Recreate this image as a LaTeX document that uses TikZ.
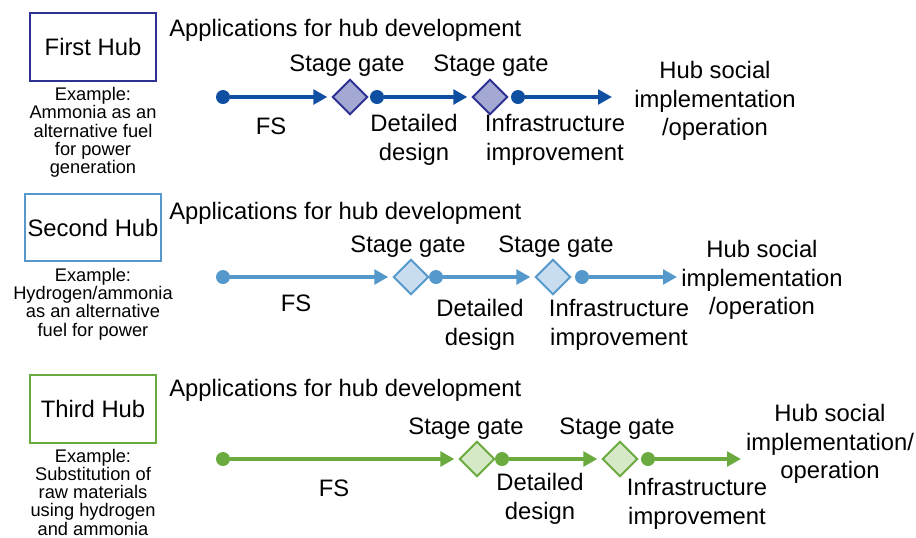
\documentclass[tikz,border=0pt]{standalone}
\usepackage{fontspec}
\setmainfont{Liberation Sans}
\usetikzlibrary{shapes.geometric}
\usetikzlibrary{arrows.meta}
\definecolor{navyline}{HTML}{0E4FA1}
\definecolor{navyedge}{HTML}{2E3192}
\definecolor{navyfill}{HTML}{A4A9D4}
\definecolor{skyline}{HTML}{5599CC}
\definecolor{skyfill}{HTML}{C8DDF0}
\definecolor{leafline}{HTML}{6AAA3F}
\definecolor{leaffill}{HTML}{D6E9C6}
\tikzset{x=0.75pt, y=-0.75pt,
every node/.style={inner sep=0pt, align=center,
font=\fontsize{17.85}{21.4}\selectfont},
hubbox/.style={ % Box with the hub name
draw=#1, line width=1.6pt, minimum width=94.5pt, minimum height=51pt},
note/.style={font=\fontsize{13.7}{13.7}\selectfont},
dot/.style={circle, fill=#1, minimum size=10.5pt},
gate/.style 2 args={ % Stage gate diamond
diamond, draw=#1, fill=#2, line width=1.5pt, minimum size=26.5pt},
flow/.style={draw=#1, line width=2.6pt, shorten >=3pt,
-{Triangle[length=10.5pt, width=11pt]}}}
\begin{document}
\begin{tikzpicture}
\useasboundingbox (0,0) rectangle (916,537);
% first hub
\node[hubbox=navyedge] (hubA) at (93,47) {First Hub};
\node[note] (exA) at (93,132.5) {Example:\\Ammonia as an\\alternative fuel\\for power\\generation};
\node[anchor=west] (appA) at (169,30) {Applications for hub development};
\node[dot=navyline] (sA1) at (223,97) {};
\node[gate={navyedge}{navyfill}] (gA1) at (350,97) {};
\node[dot=navyline] (sA2) at (377,97) {};
\node[gate={navyedge}{navyfill}] (gA2) at (490,97) {};
\node[dot=navyline] (sA3) at (518,97) {};
\coordinate (eA) at (616,97);
\draw[flow=navyline] (sA1) -- (gA1);
\draw[flow=navyline] (sA2) -- (gA2);
\draw[flow=navyline] (sA3) -- (eA);
\node (tA1) at (347,66) {Stage gate};
\node (tA2) at (491,66) {Stage gate};
\node (fsA) at (271,126) {FS};
\node (ddA) at (414,140) {Detailed\\design};
\node (ifA) at (555,140) {Infrastructure\\improvement};
\node (opA) at (715,101) {Hub social\\implementation\\/operation};
% second hub
\node[hubbox=skyline, minimum width=102pt, minimum height=50pt] (hubB) at (93,227.5) {Second Hub};
\node[note] (exB) at (93,304) {Example:\\Hydrogen/ammonia\\as an alternative\\fuel for power};
\node[anchor=west] (appB) at (169,213) {Applications for hub development};
\node[dot=skyline] (sB1) at (223,277) {};
\node[gate={skyline}{skyfill}] (gB1) at (411,277) {};
\node[dot=skyline] (sB2) at (436,277) {};
\node[gate={skyline}{skyfill}] (gB2) at (553,277) {};
\node[dot=skyline] (sB3) at (582,277) {};
\coordinate (eB) at (681,277);
\draw[flow=skyline] (sB1) -- (gB1);
\draw[flow=skyline] (sB2) -- (gB2);
\draw[flow=skyline] (sB3) -- (eB);
\node (tB1) at (408,247) {Stage gate};
\node (tB2) at (556,247) {Stage gate};
\node (fsB) at (296,303) {FS};
\node (ddB) at (480,325) {Detailed\\design};
\node (ifB) at (619,325) {Infrastructure\\improvement};
\node (opB) at (762,280) {Hub social\\implementation\\/operation};
% third hub
\node[hubbox=leafline] (hubC) at (93,409) {Third Hub};
\node[note] (exC) at (93,492) {Example:\\Substitution of\\raw materials\\using hydrogen\\and ammonia};
\node[anchor=west] (appC) at (169,390) {Applications for hub development};
\node[dot=leafline] (sC1) at (223,459) {};
\node[gate={leafline}{leaffill}] (gC1) at (477,459) {};
\node[dot=leafline] (sC2) at (502,459) {};
\node[gate={leafline}{leaffill}] (gC2) at (620,459) {};
\node[dot=leafline] (sC3) at (648,459) {};
\coordinate (eC) at (745,459);
\draw[flow=leafline] (sC1) -- (gC1);
\draw[flow=leafline] (sC2) -- (gC2);
\draw[flow=leafline] (sC3) -- (eC);
\node (tC1) at (466,429) {Stage gate};
\node (tC2) at (617,429) {Stage gate};
\node (fsC) at (334,488) {FS};
\node (ddC) at (540,499) {Detailed\\design};
\node (ifC) at (697,504) {Infrastructure\\improvement};
\node (opC) at (830,444) {Hub social\\implementation/\\operation};
\end{tikzpicture}
\end{document}
